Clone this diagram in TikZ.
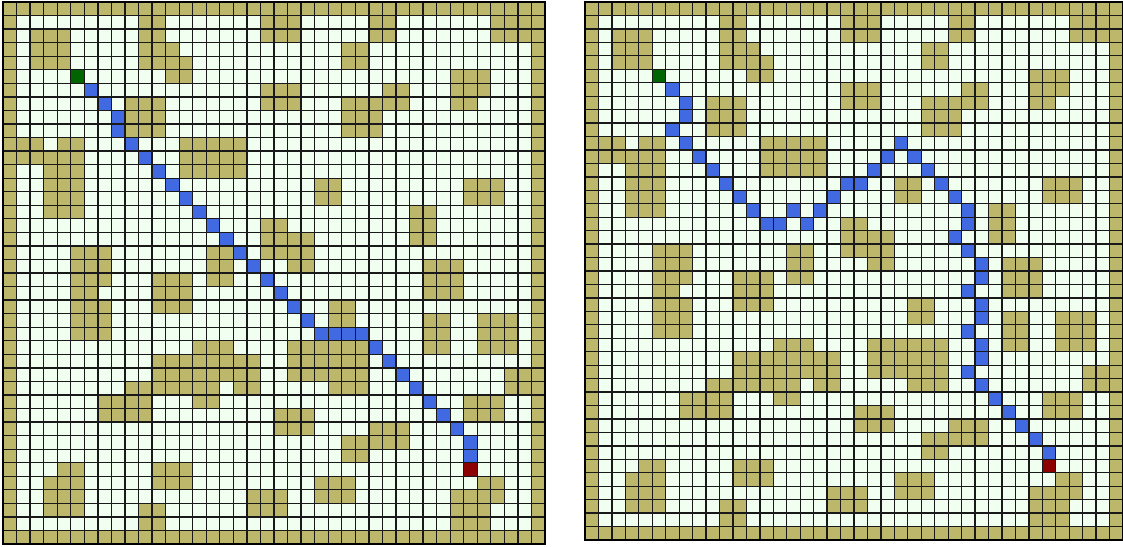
\documentclass[tikz,border=0pt]{standalone}
\usepackage{tikz}

\definecolor{wallcol}{RGB}{189,183,107}
\definecolor{floorcol}{RGB}{240,255,240}
\definecolor{pathcol}{RGB}{65,105,225}
\definecolor{startcol}{RGB}{0,100,0}
\definecolor{goalcol}{RGB}{139,0,0}

% obstacle cells, row/{columns}
\newcommand{\wallmap}{0/{0,1,...,39}, 1/{0,10,11,19,20,21,27,28,36,37,38,39},
  2/{0,2,3,4,10,11,19,20,21,27,28,36,37,38,39}, 3/{0,2,3,4,10,11,12,25,26,39},
  4/{0,2,3,4,10,11,12,13,25,26,39}, 5/{0,12,13,33,34,35,39},
  6/{0,19,20,21,28,29,33,34,35,39}, 7/{0,9,10,11,19,20,21,25,26,27,28,29,33,34,39},
  8/{0,9,10,11,25,26,27,39}, 9/{0,9,10,11,25,26,27,39},
  10/{0,1,2,4,5,13,14,15,16,17,39}, 11/{0,1,2,3,4,5,13,14,15,16,17,39},
  12/{0,3,4,5,13,14,15,16,17,39}, 13/{0,3,4,5,23,24,34,35,36,39},
  14/{0,3,4,5,23,24,34,35,36,39}, 15/{0,3,4,5,30,31,39},
  16/{0,19,20,30,31,39}, 17/{0,19,20,21,22,30,31,39},
  18/{0,5,6,7,15,16,19,20,21,22,39}, 19/{0,5,6,7,15,16,21,22,31,32,33,39},
  20/{0,5,6,7,11,12,13,15,16,31,32,33,39}, 21/{0,5,6,11,12,13,31,32,33,39},
  22/{0,5,6,7,11,12,13,24,25,39}, 23/{0,5,6,7,24,25,31,32,35,36,37,39},
  24/{0,5,6,7,31,32,35,36,37,39}, 25/{0,14,15,16,21,22,23,24,25,26,31,32,35,36,37,39},
  26/{0,11,12,13,14,15,16,17,18,21,22,23,24,25,26,39},
  27/{0,11,12,13,14,15,16,17,18,21,22,23,24,25,26,37,38,39},
  28/{0,9,10,11,12,13,14,15,17,18,24,25,26,37,38,39},
  29/{0,7,8,9,10,14,15,34,35,36,39},
  30/{0,7,8,9,10,20,21,22,34,35,36,39}, 31/{0,20,21,22,27,28,29,39},
  32/{0,25,26,27,28,29,39}, 33/{0,25,26,39}, 34/{0,4,5,11,12,13,39},
  35/{0,3,4,5,11,12,13,23,24,25,35,36,39}, 36/{0,3,4,5,18,19,20,23,24,25,33,34,35,36,39},
  37/{0,3,4,5,10,11,18,19,20,33,34,35,39}, 38/{0,10,11,33,34,35,39}, 39/{0,1,...,39}}

% one maze with its path, #1 = row/col list of path cells
\newcommand{\drawmaze}[1]{%
  \fill[floorcell] (0,0) rectangle (40,40);
  \foreach \r/\cl in \wallmap {
    \foreach \c in \cl {\fill[wallcell] (\c,\r) rectangle ++(1,1);}
  }
  \foreach \r/\c in {#1} {\fill[pathcell] (\c,\r) rectangle ++(1,1);}
  \fill[startcell] (5,5) rectangle ++(1,1);
  \fill[goalcell] (34,34) rectangle ++(1,1);
  \foreach \i in {0,...,40} {
    \draw[gridline] (\i,0) -- (\i,40);
    \draw[gridline] (0,\i) -- (40,\i);
  }
  \draw[border] (0,0) rectangle (40,40);
}

\begin{document}
\begin{tikzpicture}[
  x=1pt, y=-1pt,
  floorcell/.style={fill=floorcol},
  wallcell/.style={fill=wallcol},
  pathcell/.style={fill=pathcol},
  startcell/.style={fill=startcol},
  goalcell/.style={fill=goalcol},
  gridline/.style={draw=black!90, line width=1.3pt},
  border/.style={draw=black, line width=1.6pt}
]
  \useasboundingbox (0,0) rectangle (1123,546);

  % straight search
  \begin{scope}[shift={(3pt,-2pt)}, x=13.55pt, y=-13.55pt]
    \drawmaze{6/6,7/7,8/8,9/8,10/9,11/10,12/11,13/12,14/13,15/14,16/15,17/16,
      18/17,19/18,20/19,21/20,22/21,23/22,24/23,24/24,24/25,24/26,25/27,26/28,
      27/29,28/30,29/31,30/32,31/33,32/34,33/34}
  \end{scope}

  % zigzag search
  \begin{scope}[shift={(585pt,-2pt)}, x=13.45pt, y=-13.45pt]
    \drawmaze{6/6,7/7,8/7,9/6,10/7,11/8,12/9,13/10,14/11,15/12,16/13,16/14,
      15/15,16/16,15/17,14/18,13/19,13/20,12/21,11/22,10/23,11/24,12/25,13/26,
      14/27,15/28,16/28,17/27,18/28,19/29,20/29,21/28,22/29,23/29,24/28,25/29,
      26/29,27/28,28/29,29/30,30/31,31/32,32/33,33/34}
  \end{scope}
\end{tikzpicture}
\end{document}
